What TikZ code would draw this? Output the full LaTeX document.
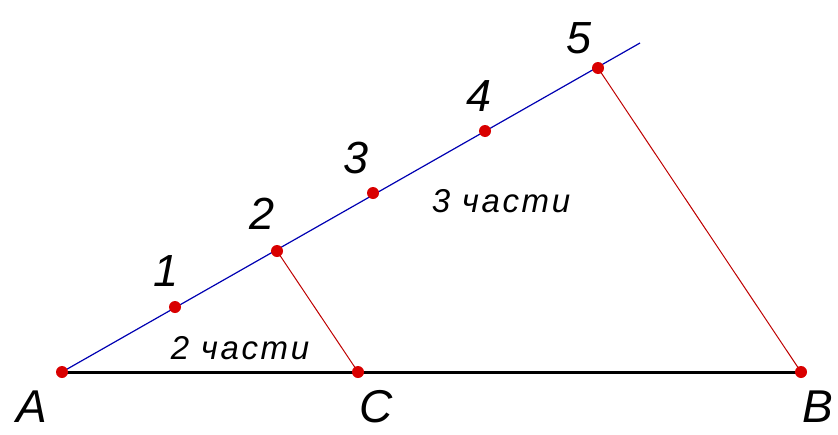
\documentclass[tikz,border=0pt]{standalone}
\usepackage{fontspec}
\setmainfont{Liberation Sans}
\begin{document}
\begin{tikzpicture}[x=1pt,y=-1pt,
  lbl/.style={font=\fontsize{46}{46}\selectfont\itshape, inner sep=0pt},
  num/.style={font=\fontsize{45}{45}\selectfont\itshape, inner sep=0pt},
  part/.style={font=\fontsize{33}{33}\selectfont\itshape\addfontfeatures{LetterSpace=8}, inner sep=0pt},
  dot/.style={fill=red!85!black},
  blueline/.style={draw=blue!70!black, line width=1.2pt},
  redline/.style={draw=red!75!black, line width=1pt},
  baseline/.style={draw=black, line width=3pt}]
\useasboundingbox (0,0) rectangle (838,434);
\coordinate (A) at (62,372);
\coordinate (C) at (358,372);
\coordinate (B) at (801,372);
\coordinate (p1) at (175,307);
\coordinate (p2) at (277,251);
\coordinate (p3) at (373,193);
\coordinate (p4) at (485,131);
\coordinate (p5) at (598,68);
\coordinate (E) at (640,43);
\draw[blueline] (A) -- (E);
\draw[baseline] (A) -- (B);
\draw[redline] (p2) -- (C);
\draw[redline] (p5) -- (B);
\foreach \p in {A,C,B,p1,p2,p3,p4,p5} \fill[dot] (\p) circle (6);
\node[lbl] (lA) at (32,407) {A};
\node[lbl] (lC) at (376,407) {C};
\node[lbl] (lB) at (818,407) {B};
\node[num] (l1) at (166,271) {1};
\node[num] (l2) at (262,214) {2};
\node[num] (l3) at (356,158) {3};
\node[num] (l4) at (479,96) {4};
\node[num] (l5) at (579,38) {5};
\node[part] (t2) at (240,348) {2 части};
\node[part] (t3) at (501,201) {3 части};
\end{tikzpicture}
\end{document}
